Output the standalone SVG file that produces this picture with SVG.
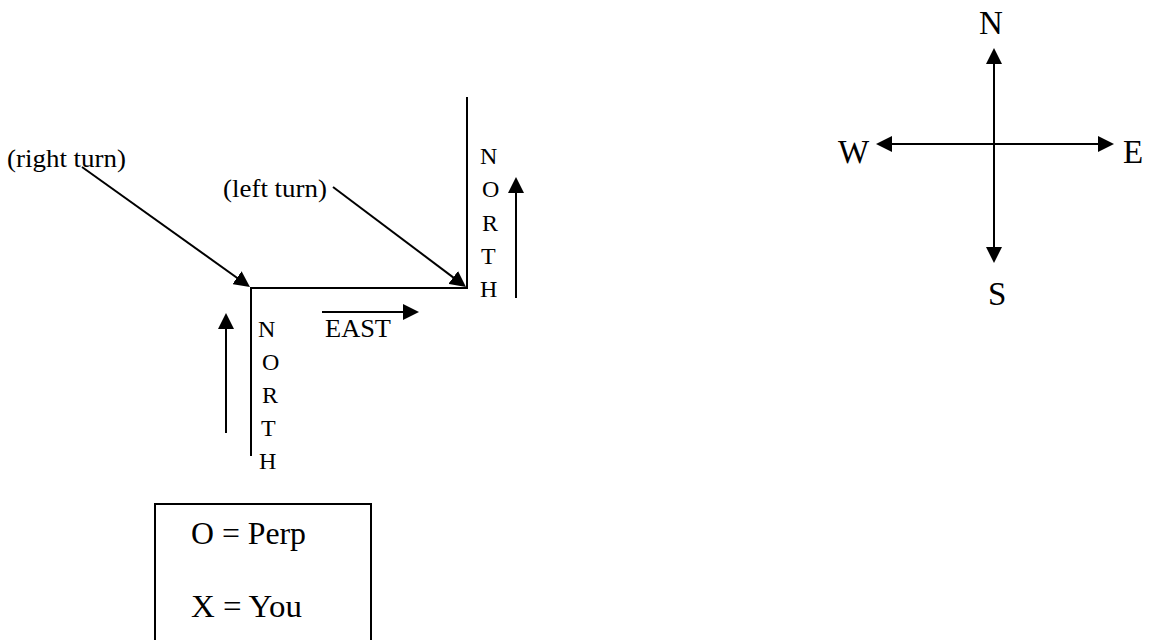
<svg xmlns="http://www.w3.org/2000/svg" width="1152" height="640" viewBox="0 0 1152 640">
<style>
.t{font-family:"Liberation Serif","Times New Roman",serif;fill:#000}
.s{font-size:24px}
.m{font-size:26px}
.l{font-size:31px}
.c{font-size:33px}
.ln{stroke:#000;stroke-width:2;fill:none}
.ar{stroke:#000;stroke-width:2;fill:none;marker-end:url(#ah)}
</style>
<defs>
<marker id="ah" viewBox="0 0 16 16" refX="12" refY="8" markerWidth="16" markerHeight="16" markerUnits="userSpaceOnUse" orient="auto-start-reverse">
<path d="M0,0 L16,8 L0,16 z" fill="#000"/>
</marker>
</defs>
<rect width="1152" height="640" fill="#fff"/>
<g id="roads">
<line class="ln" x1="250" y1="288" x2="467" y2="288"/>
<line class="ln" x1="251" y1="287" x2="251" y2="456"/>
<line class="ln" x1="467" y1="97" x2="467" y2="289"/>
</g>
<g id="label-right-turn"><text class="t m" x="7" y="167" textLength="119" lengthAdjust="spacingAndGlyphs">(right turn)</text></g>
<g id="label-left-turn"><text class="t m" x="223" y="197" textLength="104" lengthAdjust="spacingAndGlyphs">(left turn)</text></g>
<g id="label-east"><text class="t m" x="325" y="337" textLength="66" lengthAdjust="spacingAndGlyphs">EAST</text></g>
<g id="label-north-lower" class="t s">
<text x="258" y="337">N</text>
<text x="262" y="370">O</text>
<text x="262" y="403">R</text>
<text x="261" y="436">T</text>
<text x="259" y="469">H</text>
</g>
<g id="label-north-upper" class="t s">
<text x="480" y="164">N</text>
<text x="482" y="197">O</text>
<text x="482" y="231">R</text>
<text x="481" y="264">T</text>
<text x="480" y="297">H</text>
</g>
<g id="legend">
<rect x="155" y="504" width="216" height="160" fill="none" stroke="#000" stroke-width="2"/>
<text class="t l" x="191" y="544" textLength="115" lengthAdjust="spacingAndGlyphs">O = Perp</text>
<text class="t l" x="191" y="617" textLength="111" lengthAdjust="spacingAndGlyphs">X = You</text>
</g>
<g id="compass">
<text class="t c" x="979" y="34">N</text>
<text class="t c" x="838" y="163">W</text>
<text class="t c" x="1123" y="163">E</text>
<text class="t c" x="988" y="305">S</text>
</g>
<g id="connectors">
<line class="ar" x1="82" y1="167" x2="246.7" y2="284.7"/>
<line class="ar" x1="333" y1="187" x2="462.8" y2="284.6"/>
<line class="ar" x1="322" y1="312" x2="415" y2="312"/>
<line class="ar" x1="516" y1="298" x2="516" y2="181"/>
<line class="ar" x1="226" y1="433" x2="226" y2="317"/>
<line class="ar" x1="994" y1="259" x2="994" y2="52" style="marker-start:url(#ah)"/>
<line class="ar" x1="880" y1="144" x2="1110" y2="144" style="marker-start:url(#ah)"/>
</g>
</svg>
